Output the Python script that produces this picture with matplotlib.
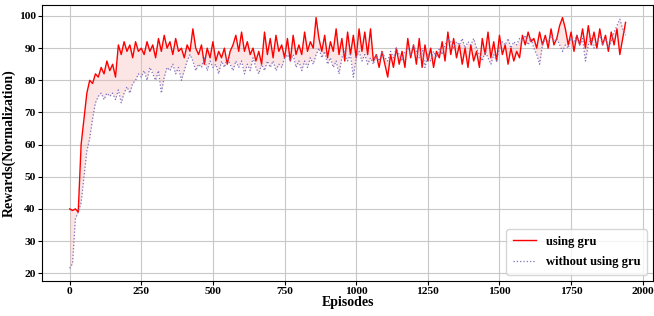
import numpy as np
import matplotlib
matplotlib.use("Agg")
import matplotlib.pyplot as plt

plt.rcParams['font.family'] = ['Liberation Serif', 'DejaVu Serif']
plt.rcParams['font.weight'] = 'bold'

# rewards, one value every 10 episodes
using_gru = [
    40, 39.5, 40, 39, 60, 68, 76, 80, 79, 82,
    81, 84, 82, 86, 83, 85, 81, 91, 88, 92,
    89, 91, 87, 92, 89, 90, 88, 92, 89, 91,
    87, 93, 89, 94, 90, 92, 88, 93, 89, 90,
    87, 91, 89, 96, 90, 88, 91, 85, 90, 87,
    92, 86, 89, 87, 90, 85, 89, 91, 94, 89,
    95, 89, 92, 88, 90, 86, 89, 85, 95, 88,
    93, 87, 94, 89, 91, 87, 93, 86, 94, 88,
    91, 88, 95, 89, 92, 90, 99.5, 93, 89, 94,
    87, 92, 89, 96, 88, 93, 86, 95, 88, 94,
    87, 96, 89, 95, 88, 96, 86, 88, 84, 89,
    85, 81, 88, 84, 90, 85, 89, 84, 93, 87,
    91, 85, 93, 84, 91, 86, 90, 84, 89, 87,
    92, 86, 95, 88, 93, 87, 91, 85, 90, 84,
    91, 86, 89, 84, 93, 88, 95, 87, 92, 86,
    94, 88, 91, 85, 90, 86, 89, 87, 94, 91,
    95, 92, 93, 90, 95, 91, 94, 90, 96, 91,
    93, 97, 99.5, 96, 91, 95, 89, 94, 91, 96,
    90, 97, 91, 95, 90, 96, 91, 94, 89, 95,
    91, 96, 88, 93, 98,
]

without_gru = [
    21.5, 23, 37, 39, 42, 50, 58, 62, 68, 73,
    75, 76, 74, 76, 75, 76, 74, 77, 73, 76,
    78, 76, 79, 80, 82, 81, 83, 80, 84, 82,
    80, 83, 76, 81, 84, 83, 85, 82, 84, 80,
    83, 86, 88, 86, 83, 85, 84, 87, 83, 86,
    84, 85, 82, 86, 84, 87, 85, 83, 86, 84,
    86, 82, 85, 83, 87, 84, 82, 85, 83, 86,
    84, 86, 83, 85, 84, 87, 88, 86, 88, 84,
    86, 83, 86, 84, 87, 85, 88, 90, 87, 89,
    85, 87, 84, 86, 82, 87, 89, 86, 88, 81,
    87, 89, 86, 88, 85, 87, 85, 88, 86, 89,
    87, 86, 89, 87, 90, 88, 86, 89, 90, 88,
    91, 89, 87, 90, 84, 88, 86, 89, 87, 90,
    88, 91, 93, 92, 90, 92, 91, 93, 90, 92,
    91, 93, 90, 88, 86, 89, 87, 85, 88, 86,
    90, 92, 91, 93, 90, 92, 91, 93, 92, 94,
    91, 93, 90, 88, 85, 91, 93, 92, 94, 92,
    93, 91, 89, 91, 90, 93, 92, 94, 91, 93,
    86, 91, 93, 90, 92, 94, 91, 93, 90, 92,
    95, 97, 99, 96, 94,
]

episodes = np.arange(len(using_gru)) * 10
red = np.array(using_gru)
blue = np.array(without_gru)

fig = plt.figure(figsize=(6.54, 3.16), dpi=100)
ax = fig.add_axes([0.064, 0.111, 0.935, 0.873])

ax.fill_between(episodes, red, blue, color='#f7b5b5', alpha=0.35, linewidth=0)
ax.plot(episodes, red, color='red', lw=1.0, label='using gru')
ax.plot(episodes, blue, color='#7a72c0', lw=0.9, ls=':', label='without using gru')

ax.grid(True, color='#c8c8c8', lw=0.8)
ax.set_axisbelow(True)
ax.set_xticks([0, 250, 500, 750, 1000, 1250, 1500, 1750, 2000])
ax.set_yticks([20, 30, 40, 50, 60, 70, 80, 90, 100])
ax.tick_params(labelsize=8.2, length=3, pad=1.5)
for lab in ax.get_xticklabels() + ax.get_yticklabels():
    lab.set_fontweight('bold')

ax.set_xlabel('Episodes', fontsize=10, fontweight='bold', labelpad=0)
ax.set_ylabel('Rewards(Normalization)', fontsize=10, fontweight='bold', labelpad=2)

leg = ax.legend(loc='lower right', prop={'weight': 'bold', 'size': 9},
                handlelength=1.9, borderpad=0.5, labelspacing=0.7)

plt.savefig('out.png', dpi=100)
